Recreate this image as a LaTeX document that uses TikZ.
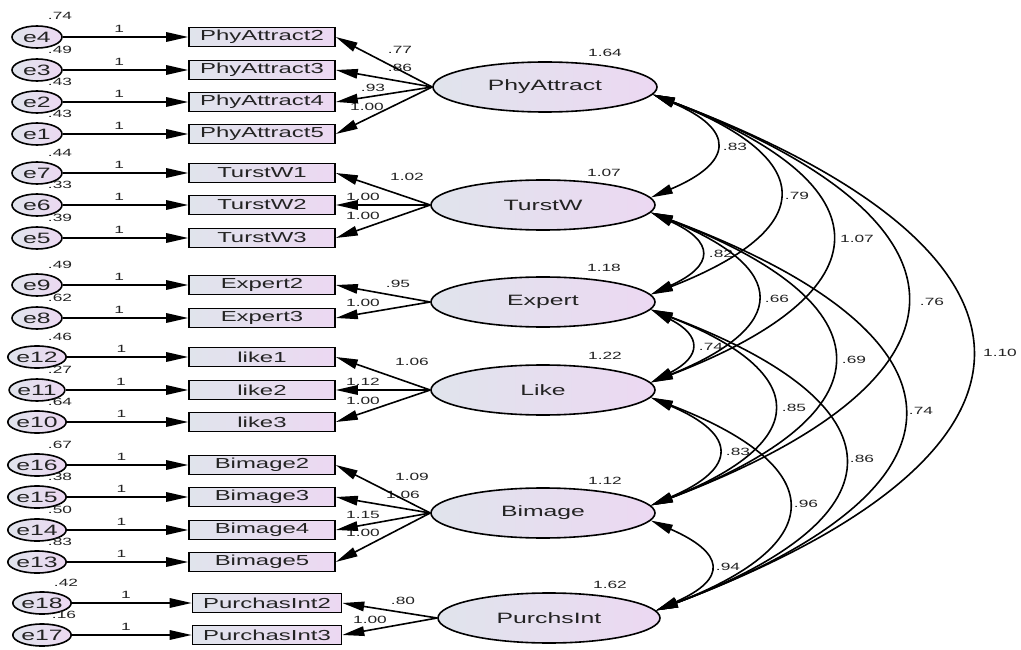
\documentclass[tikz,border=0pt]{standalone}
\usepackage{fontspec}
\setmainfont{Liberation Sans}[FakeStretch=1.65]
\usetikzlibrary{shapes.geometric,arrows.meta}
\definecolor{shadeL}{RGB}{224,228,236}
\definecolor{shadeR}{RGB}{236,216,242}
\definecolor{ink}{RGB}{35,35,35}
\begin{document}
\begin{tikzpicture}[x=1pt,y=-1pt,
    >={Triangle[length=22pt,width=9.5pt]},
    every node/.style={text=ink},
    err/.style={ellipse,draw,line width=1.6pt,minimum width=50pt,minimum height=22pt,
      inner sep=0pt,left color=shadeL,right color=shadeR,font=\fontsize{15}{15}\selectfont},
    obs/.style={rectangle,draw,line width=1.6pt,minimum width=146pt,minimum height=19pt,
      inner sep=0pt,left color=shadeL,right color=shadeR,font=\fontsize{14.5}{14.5}\selectfont},
    lat/.style={ellipse,draw,line width=1.6pt,minimum width=224pt,minimum height=50pt,
      inner sep=0pt,left color=shadeL,right color=shadeR,font=\fontsize{15}{15}\selectfont},
    num/.style={inner sep=0pt,font=\fontsize{10.5}{10.5}\selectfont},
    one/.style={num,pos=0.45,above=4pt},
    path/.style={line width=1.6pt}]
  \useasboundingbox[fill=white] (0,0) rectangle (1021,650);
  % error terms
  \draw
    (37,37) node[err] (e4){e4}
    (37,70) node[err] (e3){e3}
    (37,102) node[err] (e2){e2}
    (37,134) node[err] (e1){e1}
    (37,173) node[err] (e7){e7}
    (37,205) node[err] (e6){e6}
    (37,238) node[err] (e5){e5}
    (37,285) node[err] (e9){e9}
    (37,318) node[err] (e8){e8}
    (37,357) node[err] (e12){e12}
    (37,390) node[err] (e11){e11}
    (37,422) node[err] (e10){e10}
    (37,465) node[err] (e16){e16}
    (37,497) node[err] (e15){e15}
    (37,530) node[err] (e14){e14}
    (37,562) node[err] (e13){e13}
    (42,603) node[err] (e18){e18}
    (42,635) node[err] (e17){e17};
  % observed items
  \draw
    (262,37) node[obs] (pa2){PhyAttract2}
    (262,70) node[obs] (pa3){PhyAttract3}
    (262,102) node[obs] (pa4){PhyAttract4}
    (262,134) node[obs] (pa5){PhyAttract5}
    (262,173) node[obs] (tw1){TurstW1}
    (262,205) node[obs] (tw2){TurstW2}
    (262,238) node[obs] (tw3){TurstW3}
    (262,285) node[obs] (ex2){Expert2}
    (262,318) node[obs] (ex3){Expert3}
    (262,357) node[obs] (lk1){like1}
    (262,390) node[obs] (lk2){like2}
    (262,422) node[obs] (lk3){like3}
    (262,465) node[obs] (bi2){Bimage2}
    (262,497) node[obs] (bi3){Bimage3}
    (262,530) node[obs] (bi4){Bimage4}
    (262,562) node[obs] (bi5){Bimage5}
    (267,603) node[obs,minimum width=149pt] (pi2){PurchasInt2}
    (267,635) node[obs,minimum width=149pt] (pi3){PurchasInt3};
  % latent factors
  \draw
    (545,87) node[lat] (phy){PhyAttract}
    (543,205) node[lat] (tw){TurstW}
    (543,302) node[lat] (ex){Expert}
    (543,390) node[lat] (lk){Like}
    (543,513) node[lat] (bi){Bimage}
    (549,618) node[lat,minimum width=222pt] (pi){PurchsInt};
  % variances
  \draw
    (60,16) node[num] (ve4){.74}
    (60,50) node[num] (ve3){.49}
    (60,82) node[num] (ve2){.43}
    (60,114) node[num] (ve1){.43}
    (60,153) node[num] (ve7){.44}
    (60,185) node[num] (ve6){.33}
    (60,218) node[num] (ve5){.39}
    (60,265) node[num] (ve9){.49}
    (60,298) node[num] (ve8){.62}
    (60,337) node[num] (ve12){.46}
    (60,370) node[num] (ve11){.27}
    (60,402) node[num] (ve10){.64}
    (60,445) node[num] (ve16){.67}
    (60,477) node[num] (ve15){.38}
    (60,510) node[num] (ve14){.50}
    (60,542) node[num] (ve13){.83}
    (66,583) node[num] (ve18){.42}
    (64,615) node[num] (ve17){.16}
    (605,53) node[num] (vphy){1.64}
    (604,173) node[num] (vtw){1.07}
    (604,268) node[num] (vex){1.18}
    (605,356) node[num] (vlk){1.22}
    (605,481) node[num] (vbi){1.12}
    (610,585) node[num] (vpi){1.62};
  % loadings
  \draw
    (400,50) node[num] (wpa2){.77}
    (400,68) node[num] (wpa3){.86}
    (373,88) node[num] (wpa4){.93}
    (367,107) node[num] (wpa5){1.00}
    (407,177) node[num] (wtw1){1.02}
    (363,197) node[num] (wtw2){1.00}
    (363,216) node[num] (wtw3){1.00}
    (398,284) node[num] (wex2){.95}
    (363,303) node[num] (wex3){1.00}
    (412,362) node[num] (wlk1){1.06}
    (363,382) node[num] (wlk2){1.12}
    (363,401) node[num] (wlk3){1.00}
    (412,477) node[num] (wbi2){1.09}
    (403,495) node[num] (wbi3){1.06}
    (363,515) node[num] (wbi4){1.15}
    (363,533) node[num] (wbi5){1.00}
    (403,601) node[num] (wpi2){.80}
    (370,620) node[num] (wpi3){1.00};
  % covariances
  \draw
    (735,147) node[num] (cphytw){.83}
    (797,196) node[num] (cphyex){.79}
    (857,239) node[num] (cphylk){1.07}
    (932,302) node[num] (cphybi){.76}
    (1000,353) node[num] (cphypi){1.10}
    (721,254) node[num] (ctwex){.82}
    (777,299) node[num] (ctwlk){.66}
    (854,360) node[num] (ctwbi){.69}
    (921,411) node[num] (ctwpi){.74}
    (711,347) node[num] (cexlk){.74}
    (794,408) node[num] (cexbi){.85}
    (862,459) node[num] (cexpi){.86}
    (738,452) node[num] (clkbi){.83}
    (806,504) node[num] (clkpi){.96}
    (728,567) node[num] (cbipi){.94};
  \begin{scope}[->,path]
    \draw (e4) -- node[one] (o4){1} (pa2);
    \draw (e3) -- node[one] (o3){1} (pa3);
    \draw (e2) -- node[one] (o2){1} (pa4);
    \draw (e1) -- node[one] (o1){1} (pa5);
    \draw (e7) -- node[one] (o7){1} (tw1);
    \draw (e6) -- node[one] (o6){1} (tw2);
    \draw (e5) -- node[one] (o5){1} (tw3);
    \draw (e9) -- node[one] (o9){1} (ex2);
    \draw (e8) -- node[one] (o8){1} (ex3);
    \draw (e12) -- node[one] (o12){1} (lk1);
    \draw (e11) -- node[one] (o11){1} (lk2);
    \draw (e10) -- node[one] (o10){1} (lk3);
    \draw (e16) -- node[one] (o16){1} (bi2);
    \draw (e15) -- node[one] (o15){1} (bi3);
    \draw (e14) -- node[one] (o14){1} (bi4);
    \draw (e13) -- node[one] (o13){1} (bi5);
    \draw (e18) -- node[one] (o18){1} (pi2);
    \draw (e17) -- node[one] (o17){1} (pi3);
    \draw (phy.west) -- (pa2.east);
    \draw (phy.west) -- (pa3.east);
    \draw (phy.west) -- (pa4.east);
    \draw (phy.west) -- (pa5.east);
    \draw (tw.west) -- (tw1.east);
    \draw (tw.west) -- (tw2.east);
    \draw (tw.west) -- (tw3.east);
    \draw (ex.west) -- (ex2.east);
    \draw (ex.west) -- (ex3.east);
    \draw (lk.west) -- (lk1.east);
    \draw (lk.west) -- (lk2.east);
    \draw (lk.west) -- (lk3.east);
    \draw (bi.west) -- (bi2.east);
    \draw (bi.west) -- (bi3.east);
    \draw (bi.west) -- (bi4.east);
    \draw (bi.west) -- (bi5.east);
    \draw (pi.west) -- (pi2.east);
    \draw (pi.west) -- (pi3.east);
  \end{scope}
  \begin{scope}[<->,path]
    \draw (phy.356) .. controls +(83,35) and +(83,-35) .. (tw.4);
    \draw (phy.356) .. controls +(167,65) and +(167,-65) .. (ex.4);
    \draw (phy.356) .. controls +(237,91) and +(237,-91) .. (lk.4);
    \draw (phy.356) .. controls +(337,128) and +(337,-128) .. (bi.4);
    \draw (phy.356) .. controls +(420,159) and +(420,-159) .. (pi.4);
    \draw (tw.356) .. controls +(64,29) and +(64,-29) .. (ex.4);
    \draw (tw.356) .. controls +(139,56) and +(139,-56) .. (lk.4);
    \draw (tw.356) .. controls +(241,92) and +(241,-92) .. (bi.4);
    \draw (tw.356) .. controls +(331,124) and +(331,-124) .. (pi.4);
    \draw (ex.356) .. controls +(51,26) and +(51,-26) .. (lk.4);
    \draw (ex.356) .. controls +(161,63) and +(161,-63) .. (bi.4);
    \draw (ex.356) .. controls +(252,95) and +(252,-95) .. (pi.4);
    \draw (lk.356) .. controls +(87,37) and +(87,-37) .. (bi.4);
    \draw (lk.356) .. controls +(177,68) and +(177,-68) .. (pi.4);
    \draw (bi.356) .. controls +(73,32) and +(73,-32) .. (pi.4);
  \end{scope}
\end{tikzpicture}
\end{document}
